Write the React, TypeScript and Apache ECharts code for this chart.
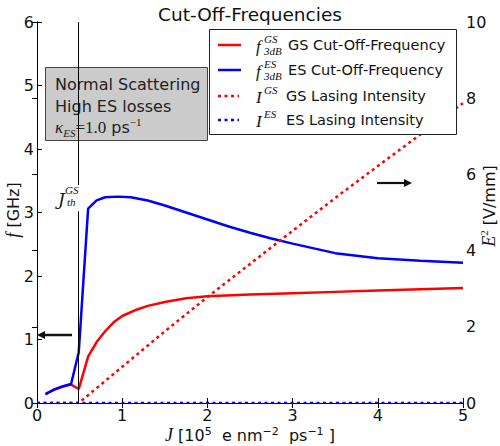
import React, { useEffect, useRef } from 'react';
import * as echarts from 'echarts';

// ---- data ----
const jGS = [0.1, 0.2, 0.3, 0.4, 0.49, 0.6, 0.7, 0.8, 0.9, 1.0, 1.15, 1.3, 1.5, 1.75, 2.0, 2.5, 3.0, 3.5, 4.0, 4.5, 5.0];
const fGS = [0.14, 0.21, 0.26, 0.29, 0.22, 0.73, 0.96, 1.13, 1.27, 1.37, 1.46, 1.53, 1.59, 1.65, 1.68, 1.71, 1.73, 1.75, 1.77, 1.79, 1.81];

const jES = [0.1, 0.2, 0.3, 0.4, 0.49, 0.6, 0.7, 0.8, 0.95, 1.1, 1.3, 1.5, 1.75, 2.0, 2.25, 2.5, 2.75, 3.0, 3.5, 4.0, 4.5, 5.0];
const fES = [0.14, 0.21, 0.26, 0.30, 0.80, 3.06, 3.19, 3.24, 3.25, 3.24, 3.19, 3.11, 3.0, 2.89, 2.78, 2.68, 2.59, 2.51, 2.36, 2.28, 2.24, 2.21];

const jIGS = [0, 0.49, 1.0, 1.5, 2.0, 2.5, 3.0, 3.5, 4.0, 4.5, 5.0];
const iGS = [0, 0, 0.95, 1.88, 2.78, 3.65, 4.52, 5.38, 6.22, 7.05, 7.87];

const jIES = [0, 1, 2, 3, 4, 5];
const iES = [0, 0, 0, 0, 0, 0];

const jThreshold = 0.49;

const xMin = 0, xMax = 5, xStep = 1;
const fMin = 0, fMax = 6, fStep = 1;
const eMin = 0, eMax = 10, eStep = 2;

const pairs = (xs: number[], ys: number[]) => xs.map((x, i) => [x, ys[i]]);

const SANS = 'DejaVu Sans';
const SERIF = 'Liberation Serif';
const RED = '#ff0000';
const BLUE = '#0000ff';

function txt(x: number, y: number, text: string, opts: any = {}) {
  const { size = 16, family = SANS, italic = false, align = 'left', valign = 'middle', z = 20, color = '#111', rotation = 0, rich } = opts;
  return {
    type: 'text',
    x,
    y,
    rotation,
    z,
    silent: true,
    style: {
      text,
      fontSize: size,
      fontFamily: family,
      fontStyle: italic ? 'italic' : 'normal',
      fill: color,
      align,
      verticalAlign: valign,
      textAlign: align,
      textVerticalAlign: valign,
      rich,
    },
  };
}

export default function App() {
  const ref = useRef<HTMLDivElement>(null);

  useEffect(() => {
    if (!ref.current) return;
    const chart = echarts.init(ref.current, undefined, { renderer: 'svg' });

    const axisLabel = { color: '#111', fontSize: 16, fontFamily: SANS, lineHeight: 16 };
    const axisLine = { show: true, lineStyle: { color: '#000', width: 1 } };
    const axisTick = { show: true, inside: true, length: 5, lineStyle: { color: '#000', width: 1 } };

    const legendRows = [
      { y: 45, color: RED, dotted: false, sym: 'f', sup: 'GS', sub: '3dB', label: 'GS Cut-Off-Frequency' },
      { y: 70, color: BLUE, dotted: false, sym: 'f', sup: 'ES', sub: '3dB', label: 'ES Cut-Off-Frequency' },
      { y: 96, color: RED, dotted: true, sym: 'I', sup: 'GS', sub: '', label: 'GS Lasing Intensity' },
      { y: 120, color: BLUE, dotted: true, sym: 'I', sup: 'ES', sub: '', label: 'ES Lasing Intensity' },
    ];

    const legendEls: any[] = [
      {
        type: 'rect',
        z: 10,
        silent: true,
        shape: { x: 209.5, y: 29.5, width: 247, height: 105 },
        style: { fill: '#fff', stroke: '#222', lineWidth: 1 },
      },
    ];
    legendRows.forEach((r) => {
      legendEls.push({
        type: 'line',
        z: 11,
        silent: true,
        shape: { x1: 218, y1: r.y, x2: r.dotted ? 239 : 241, y2: r.y },
        style: { stroke: r.color, lineWidth: 2.5, lineDash: r.dotted ? [3, 3.5] : null },
      });
      legendEls.push(txt(256, r.y + 1, r.sym, { size: 17, family: SERIF, italic: true }));
      legendEls.push(txt(264, r.y - 6, r.sup, { size: 11, family: SERIF, italic: true }));
      if (r.sub) legendEls.push(txt(264, r.y + 6, r.sub, { size: 11, family: SERIF, italic: true }));
      legendEls.push(txt(r.sym === 'f' ? 288 : 286, r.y, r.label, { size: 14.5 }));
    });

    const option: any = {
      animation: false,
      title: {
        text: 'Cut-Off-Frequencies',
        left: 'center',
        top: 0,
        textStyle: { fontFamily: SANS, fontSize: 18.5, fontWeight: 'normal', color: '#111' },
      },
      grid: { left: 37, right: 37, top: 22, bottom: 43, containLabel: false },
      xAxis: [
        {
          type: 'value', min: xMin, max: xMax, interval: xStep, position: 'bottom',
          axisLine, axisTick, splitLine: { show: false },
          axisLabel: { ...axisLabel, margin: 4 },
        },
        {
          type: 'value', min: xMin, max: xMax, interval: xStep, position: 'top',
          axisLine, axisTick, splitLine: { show: false }, axisLabel: { show: false },
        },
      ],
      yAxis: [
        {
          type: 'value', min: fMin, max: fMax, interval: fStep, position: 'left',
          axisLine, axisTick, splitLine: { show: false },
          axisLabel: { ...axisLabel, margin: 3 },
        },
        {
          type: 'value', min: eMin, max: eMax, interval: eStep, position: 'right',
          axisLine, axisTick, splitLine: { show: false },
          axisLabel: { ...axisLabel, margin: 3 },
        },
      ],
      series: [
        {
          name: 'GS Cut-Off-Frequency', type: 'line', xAxisIndex: 0, yAxisIndex: 0,
          data: pairs(jGS, fGS), showSymbol: false, symbol: 'none',
          lineStyle: { color: RED, width: 2.5 }, itemStyle: { color: RED },
          markLine: {
            silent: true, symbol: ['none', 'none'], label: { show: false },
            lineStyle: { color: '#000', width: 1, type: 'solid' },
            data: [
              [{ coord: [jThreshold, fMax] }, { coord: [jThreshold, 3.43] }],
              [{ coord: [jThreshold, 3.02] }, { coord: [jThreshold, fMin] }],
            ],
          },
        },
        {
          name: 'ES Cut-Off-Frequency', type: 'line', xAxisIndex: 0, yAxisIndex: 0,
          data: pairs(jES, fES), showSymbol: false, symbol: 'none',
          lineStyle: { color: BLUE, width: 2.5 }, itemStyle: { color: BLUE },
        },
        {
          name: 'GS Lasing Intensity', type: 'line', xAxisIndex: 0, yAxisIndex: 1,
          data: pairs(jIGS, iGS), showSymbol: false, symbol: 'none',
          lineStyle: { color: RED, width: 2.5, type: [3, 3.5] }, itemStyle: { color: RED },
        },
        {
          name: 'ES Lasing Intensity', type: 'line', xAxisIndex: 0, yAxisIndex: 1,
          data: pairs(jIES, iES), showSymbol: false, symbol: 'none',
          lineStyle: { color: BLUE, width: 2.5, type: [3, 3.5] }, itemStyle: { color: BLUE },
        },
      ],
      graphic: [
        // text box
        {
          type: 'rect', z: 0, silent: true,
          shape: { x: 45.5, y: 67.5, width: 162, height: 73 },
          style: { fill: '#cbcbcb', stroke: '#444', lineWidth: 1 },
        },
        txt(55, 84, 'Normal Scattering', { size: 16, z: 1, color: '#222' }),
        txt(55, 106, 'High ES losses', { size: 16, z: 1, color: '#222' }),
        txt(55, 127, '{k|κ}{sub|ES}{n|=1.0}{s| ps}{sup|−1}', {
          z: 1,
          rich: {
            k: { fontFamily: SERIF, fontStyle: 'italic', fontSize: 17, lineHeight: 22, fill: '#222' },
            sub: { fontFamily: SERIF, fontStyle: 'italic', fontSize: 11, lineHeight: 11, verticalAlign: 'bottom', fill: '#222' },
            n: { fontFamily: SERIF, fontSize: 17, lineHeight: 22, fill: '#222' },
            s: { fontFamily: SANS, fontSize: 16, lineHeight: 22, fill: '#222' },
            sup: { fontFamily: SERIF, fontSize: 11, lineHeight: 11, verticalAlign: 'top', fill: '#222' },
          },
        }),
        // threshold label
        txt(58, 199, 'J', { size: 17, family: 'DejaVu Serif', italic: true }),
        txt(65, 190, 'GS', { size: 11, family: SERIF, italic: true }),
        txt(67, 202, 'th', { size: 11, family: SERIF, italic: true }),
        // arrows
        { type: 'line', z: 5, silent: true, shape: { x1: 72, y1: 335, x2: 44, y2: 335 }, style: { stroke: '#111', lineWidth: 2.5 } },
        { type: 'polygon', z: 5, silent: true, shape: { points: [[37, 335], [45, 331], [45, 339]] }, style: { fill: '#111' } },
        { type: 'line', z: 5, silent: true, shape: { x1: 377, y1: 183, x2: 405, y2: 183 }, style: { stroke: '#111', lineWidth: 2.2 } },
        { type: 'polygon', z: 5, silent: true, shape: { points: [[412, 183], [404, 179], [404, 187]] }, style: { fill: '#111' } },
        // legend
        ...legendEls,
        // axis names
        txt(250, 435, '{i|J} {n|[10}{sup|5}{n|  e nm}{sup|−2}{n|  ps}{sup|−1}{n| ]}', {
          align: 'center',
          rich: {
            i: { fontFamily: SERIF, fontStyle: 'italic', fontSize: 18, lineHeight: 18, fill: '#111' },
            n: { fontFamily: SANS, fontSize: 16, lineHeight: 18, fill: '#111' },
            sup: { fontFamily: SANS, fontSize: 11, lineHeight: 10, verticalAlign: 'top', fill: '#111' },
          },
        }),
        txt(13, 210, '{i|f} {n|[GHz]}', {
          align: 'center', rotation: Math.PI / 2,
          rich: {
            i: { fontFamily: SERIF, fontStyle: 'italic', fontSize: 18, lineHeight: 22, fill: '#111' },
            n: { fontFamily: SANS, fontSize: 16, lineHeight: 22, fill: '#111' },
          },
        }),
        txt(489, 206, '{i|E}{sup|2} {n|[V/mm]}', {
          align: 'center', rotation: Math.PI / 2,
          rich: {
            i: { fontFamily: SERIF, fontStyle: 'italic', fontSize: 18, lineHeight: 22, fill: '#111' },
            sup: { fontFamily: SERIF, fontSize: 11, lineHeight: 11, verticalAlign: 'top', fill: '#111' },
            n: { fontFamily: SANS, fontSize: 16, lineHeight: 22, fill: '#111' },
          },
        }),
      ],
    };

    chart.setOption(option);
    return () => chart.dispose();
  }, []);

  return <div ref={ref} style={{ width: 500, height: 446, position: 'absolute', left: 0, top: 0 }} />;
}
